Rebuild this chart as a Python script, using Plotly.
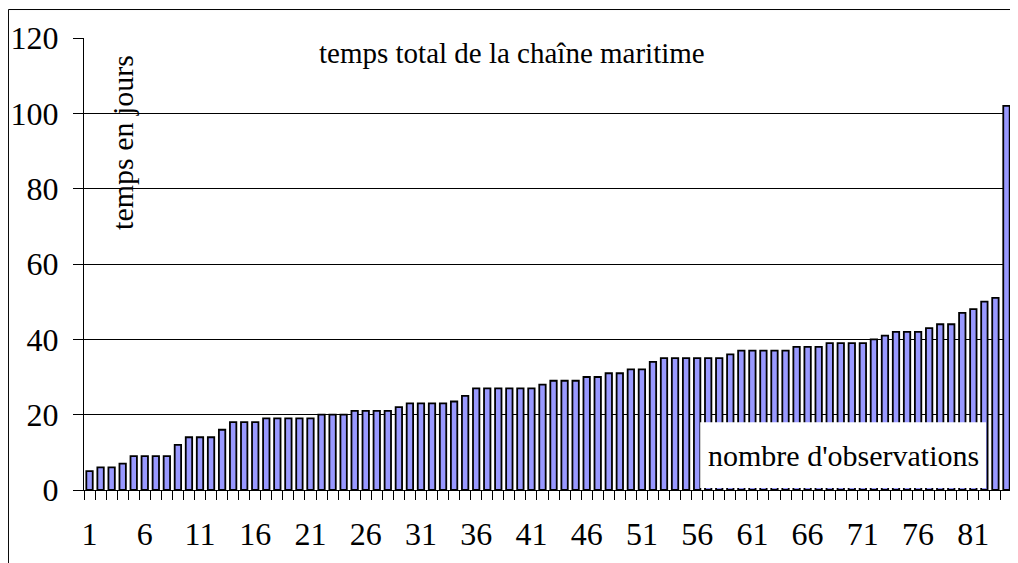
import plotly.graph_objects as go

# observation number (sorted) and total time of the maritime chain, in days
observations = list(range(1, 85))
temps_total = [5, 6, 6, 7, 9, 9, 9, 9, 12, 14,
               14, 14, 16, 18, 18, 18, 19, 19, 19, 19,
               19, 20, 20, 20, 21, 21, 21, 21, 22, 23,
               23, 23, 23, 23.5, 25, 27, 27, 27, 27, 27,
               27, 28, 29, 29, 29, 30, 30, 31, 31, 32,
               32, 34, 35, 35, 35, 35, 35, 35, 36, 37,
               37, 37, 37, 37, 38, 38, 38, 39, 39, 39,
               39, 40, 41, 42, 42, 42, 43, 44, 44, 47,
               48, 50, 51, 102]
x_tick_labels = [1, 6, 11, 16, 21, 26, 31, 36, 41, 46, 51, 56, 61, 66, 71, 76, 81]
y_tick_labels = [0, 20, 40, 60, 80, 100, 120]

serif = "Liberation Serif, Times New Roman, serif"

fig = go.Figure()
fig.add_trace(go.Bar(
    x=observations,
    y=temps_total,
    marker=dict(color="#9999FF", line=dict(color="black", width=1.8)),
    showlegend=False,
))

# the page body adds an 8px margin, so the figure is 8px smaller than the window
fig.update_layout(
    width=1010,
    height=555,
    margin=dict(l=76, r=6, t=30, b=73, autoexpand=False),
    paper_bgcolor="white",
    plot_bgcolor="white",
    bargap=0.42,
    font=dict(family=serif, size=32, color="black"),
    xaxis=dict(
        range=[0.5, 84.5],
        tickmode="array",
        tickvals=x_tick_labels,
        ticktext=[str(v) for v in x_tick_labels],
        ticks="",
        showgrid=False,
        showline=True,
        linecolor="black",
        linewidth=1,
        zeroline=False,
        ticklabelstandoff=16,
        minor=dict(tick0=0.5, dtick=1, ticks="outside", ticklen=9,
                   tickcolor="black", tickwidth=1, showgrid=False),
    ),
    yaxis=dict(
        range=[0, 120],
        tickmode="array",
        tickvals=y_tick_labels,
        ticks="outside",
        ticklen=10,
        tickcolor="black",
        showgrid=True,
        gridcolor="black",
        gridwidth=1,
        showline=True,
        linecolor="black",
        linewidth=1,
        zeroline=False,
        ticklabelstandoff=8,
    ),
    shapes=[
        dict(type="rect", xref="paper", yref="paper",
             x0=-0.0814, x1=1.03, y0=-0.25, y1=1.063,
             line=dict(color="black", width=1), fillcolor="rgba(0,0,0,0)",
             layer="below"),
        dict(type="rect", xref="paper", yref="paper",
             x0=0.664, x1=0.972, y0=0.0044, y1=0.150,
             line=dict(width=0), fillcolor="white", layer="above"),
    ],
    annotations=[
        dict(text="temps total de la chaîne maritime", xref="paper", yref="paper",
             x=0.461, y=0.967, showarrow=False, xanchor="center", yanchor="middle",
             font=dict(family=serif, size=29)),
        dict(text="temps en jours", xref="paper", yref="paper",
             x=0.042, y=0.77, showarrow=False, textangle=-90,
             xanchor="center", yanchor="middle",
             font=dict(family=serif, size=30)),
        dict(text="nombre d'observations", xref="paper", yref="paper",
             x=0.818, y=0.0774, showarrow=False, xanchor="center", yanchor="middle",
             font=dict(family=serif, size=30)),
    ],
)

fig.write_html("out.html")
